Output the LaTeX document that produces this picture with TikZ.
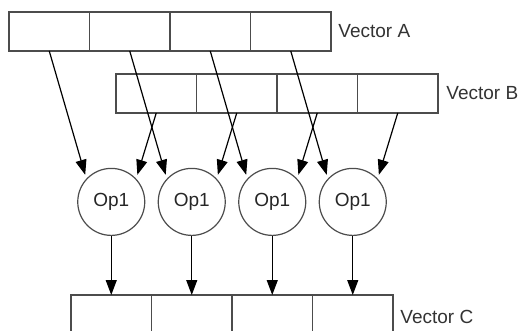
\documentclass[tikz,border=0pt]{standalone}
\usepackage{fontspec}
\setmainfont{Liberation Sans}
\usetikzlibrary{arrows.meta,positioning}

\tikzset{
  cell/.style={draw=black!70, line width=0.6pt, minimum width=40.25pt, minimum height=19.5pt, inner sep=0pt, outer sep=0pt},
  opnode/.style={circle, draw=black!70, line width=0.6pt, minimum size=33.5pt, inner sep=0pt, font=\fontsize{9.5}{11}\selectfont, text=black!85},
  feed/.style={-{Triangle[length=7.5pt,width=5.5pt]}, line width=0.6pt, shorten >=2pt},
  veclabel/.style={anchor=west, inner sep=0pt, text=black!80, font=\fontsize{9.5}{11}\selectfont}
}

\begin{document}
\begin{tikzpicture}[x=0.5pt,y=-0.5pt]
\clip (0,0) rectangle (518,331);

% vector A
\node[cell] (a1) at (49.25,31.5) {};
\node[cell, right=0pt of a1] (a2) {};
\node[cell, right=0pt of a2] (a3) {};
\node[cell, right=0pt of a3] (a4) {};
\node[veclabel, right=3.5pt of a4] (la) {Vector A};

% vector B
\node[cell] (b1) at (156.25,93.5) {};
\node[cell, right=0pt of b1] (b2) {};
\node[cell, right=0pt of b2] (b3) {};
\node[cell, right=0pt of b3] (b4) {};
\node[veclabel, right=4pt of b4] (lb) {Vector B};

% vector C (runs off the bottom)
\node[cell] (c1) at (111.25,314.5) {};
\node[cell, right=0pt of c1] (c2) {};
\node[cell, right=0pt of c2] (c3) {};
\node[cell, right=0pt of c3] (c4) {};
\node[veclabel, right=3.5pt of c4, yshift=-1pt] (lc) {Vector C};

% operators
\node[opnode, above=29.5pt of c1] (op1) {Op1};
\node[opnode, above=29.5pt of c2] (op2) {Op1};
\node[opnode, above=29.5pt of c3] (op3) {Op1};
\node[opnode, above=29.5pt of c4] (op4) {Op1};

\foreach \i in {1,...,4} {
  \draw[feed] (a\i.south) -- (op\i.137);
  \draw[feed] (b\i.south) -- (op\i.43);
  \draw[feed, shorten >=0pt] (op\i.south) -- (c\i.north);
}
\end{tikzpicture}
\end{document}
